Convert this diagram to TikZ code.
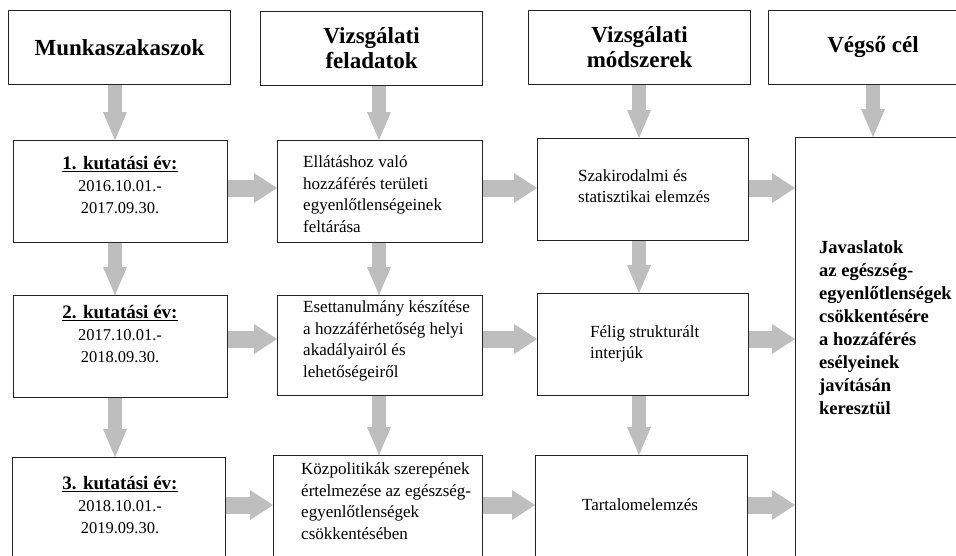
\documentclass[tikz,border=0pt]{standalone}
\usepackage{fontspec}
\setmainfont{Liberation Serif}
\usetikzlibrary{arrows.meta,calc}
\definecolor{arrowgray}{RGB}{190,190,190}
\definecolor{boxline}{RGB}{35,35,35}
\tikzset{
  box/.style={draw=boxline, line width=1.1pt, fill=white, inner sep=0pt, anchor=north west},
  hdr/.style={box, align=center, font=\fontsize{23}{25}\selectfont\bfseries},
  yeartext/.style={inner sep=0pt, align=center, font=\fontsize{16.5}{22}\selectfont},
  tasktext/.style={inner sep=0pt, anchor=west, align=left, font=\fontsize{17}{21.5}\selectfont},
  varrow/.style={draw=arrowgray, line width=14pt, -{Triangle[width=24pt,length=28pt,line width=0pt]}},
  harrow/.style={draw=arrowgray, line width=17pt, -{Triangle[width=30pt,length=23pt,line width=0pt]}},
  goaltext/.style={anchor=north west, inner sep=0pt, align=left, font=\fontsize{18.5}{23}\selectfont\bfseries}
}
\newcommand{\yeartitle}[1]{\underline{\fontsize{19}{22}\selectfont\bfseries #1}}
\begin{document}
\begin{tikzpicture}[x=1pt,y=-1pt]
\useasboundingbox (0,0) rectangle (956,555);
\clip (0,0) rectangle (956,555);
\fill[white] (0,0) rectangle (956,555);
% headers
\node[hdr, minimum width=222pt, minimum height=74pt] (H1) at (8,10) {Munkaszakaszok};
\node[hdr, minimum width=222pt, minimum height=74pt] (H2) at (260,11) {Vizsgálati\\feladatok};
\node[hdr, minimum width=222pt, minimum height=74pt] (H3) at (528,10) {Vizsgálati\\módszerek};
\node[box, minimum width=200pt, minimum height=74pt] (H4) at (768,10) {};
\node[font=\fontsize{23}{25}\selectfont\bfseries, inner sep=0pt] (H4t) at (873,47) {Végső cél};
% boxes
\node[box, minimum width=214pt, minimum height=102pt] (A1) at (13,140) {};
\node[box, minimum width=205pt, minimum height=102pt] (B1) at (277,140) {};
\node[box, minimum width=211pt, minimum height=102pt] (C1) at (537,138) {};
\node[box, minimum width=175pt, minimum height=430pt] (F) at (795,137) {};
\node[box, minimum width=214pt, minimum height=102pt] (A2) at (13,295) {};
\node[box, minimum width=205pt, minimum height=100pt] (B2) at (277,295) {};
\node[box, minimum width=211pt, minimum height=102pt] (C2) at (537,293) {};
\node[box, minimum width=213pt, minimum height=102pt] (A3) at (12,457) {};
\node[box, minimum width=209pt, minimum height=102pt] (B3) at (273,455) {};
\node[box, minimum width=212pt, minimum height=102pt] (C3) at (535,455) {};
% texts
\node[yeartext] (A1t) at (120,185) {\yeartitle{1. kutatási év:}\\ 2016.10.01.-\\ 2017.09.30.};
\node[yeartext] (A2t) at (120,334) {\yeartitle{2. kutatási év:}\\ 2017.10.01.-\\ 2018.09.30.};
\node[yeartext] (A3t) at (120,505) {\yeartitle{3. kutatási év:}\\ 2018.10.01.-\\ 2019.09.30.};
\node[tasktext] (B1t) at (303,194) {Ellátáshoz való\\ hozzáférés területi\\ egyenlőtlenségeinek\\ feltárása};
\node[tasktext] (B2t) at (303,341) {Esettanulmány készítése\\ a hozzáférhetőség helyi\\ akadályairól és\\ lehetőségeiről};
\node[tasktext] (B3t) at (301,501) {Közpolitikák szerepének\\ értelmezése az egészség-\\ egyenlőtlenségek\\ csökkentésében};
\node[tasktext] (C1t) at (578,186) {Szakirodalmi és\\ statisztikai elemzés};
\node[tasktext] (C2t) at (590,344) {Félig strukturált\\ interjúk};
\node[tasktext, anchor=center] (C3t) at (640,505) {Tartalomelemzés};
\node[goaltext] (Ft) at (819,240) {Javaslatok\\ az egészség-\\ egyenlőtlenségek\\ csökkentésére\\ a hozzáférés\\ esélyeinek\\ javításán\\ keresztül};
% arrow lines
\coordinate (c1) at (115,0);
\coordinate (c2) at (379,0);
\coordinate (c3) at (639,0);
\coordinate (c4) at (873,0);
\coordinate (r1) at (0,188);
\coordinate (r2) at (0,339);
\coordinate (r3) at (0,505);
% vertical arrows
\draw[varrow] (H1.south -| c1) -- (A1.north -| c1);
\draw[varrow] (A1.south -| c1) -- (A2.north -| c1);
\draw[varrow] (A2.south -| c1) -- (A3.north -| c1);
\draw[varrow] (H2.south -| c2) -- (B1.north -| c2);
\draw[varrow] (B1.south -| c2) -- (B2.north -| c2);
\draw[varrow] (B2.south -| c2) -- (B3.north -| c2);
\draw[varrow] (H3.south -| c3) -- (C1.north -| c3);
\draw[varrow] (C1.south -| c3) -- (C2.north -| c3);
\draw[varrow] (C2.south -| c3) -- (C3.north -| c3);
\draw[varrow] (H4.south -| c4) -- (F.north -| c4);
% horizontal arrows
\draw[harrow] (A1.east |- r1) -- (B1.west |- r1);
\draw[harrow] (B1.east |- r1) -- (C1.west |- r1);
\draw[harrow] (C1.east |- r1) -- (F.west |- r1);
\draw[harrow] (A2.east |- r2) -- (B2.west |- r2);
\draw[harrow] (B2.east |- r2) -- (C2.west |- r2);
\draw[harrow] (C2.east |- r2) -- (F.west |- r2);
\draw[harrow] (A3.east |- r3) -- (B3.west |- r3);
\draw[harrow] (B3.east |- r3) -- (C3.west |- r3);
\draw[harrow] (C3.east |- r3) -- (F.west |- r3);
\end{tikzpicture}
\end{document}
